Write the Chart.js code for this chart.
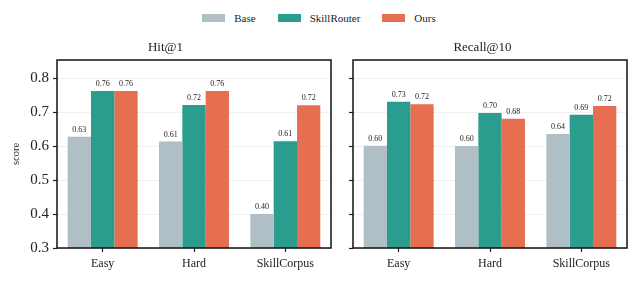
<!DOCTYPE html>
<html>
<head>
<meta charset="utf-8">
<script src="https://cdn.jsdelivr.net/npm/chart.js@4.4.0/dist/chart.umd.min.js"></script>
<style>
  body { margin: 0; background: #fff; }
  #wrap { position: relative; width: 638px; height: 281px; overflow: hidden; }
  #legenda {
    position: absolute; top: 12px; left: 0; width: 638px;
    display: flex; justify-content: center; gap: 22px;
    font-family: "Liberation Serif", serif; font-size: 11px; color: #222;
  }
  #legenda span.item { display: flex; align-items: center; }
  #legenda span.box { display: inline-block; width: 23px; height: 8px; margin-right: 9px; }
  canvas { position: absolute; top: 0; }
</style>
</head>
<body>
<div id="wrap">
  <div id="legenda"></div>
  <canvas id="graficoHit" style="left:0" width="338" height="281"></canvas>
  <canvas id="graficoRecall" style="left:338px" width="300" height="281"></canvas>
</div>
<script>
const categorias = ["Easy", "Hard", "SkillCorpus"];
const series = ["Base", "SkillRouter", "Ours"];
const cores = ["#b0bec5", "#2a9d8f", "#e76f51"];

const hitBase = [0.627, 0.613, 0.40];
const hitSkillRouter = [0.762, 0.721, 0.614];
const hitOurs = [0.762, 0.762, 0.72];

const recallBase = [0.601, 0.600, 0.635];
const recallSkillRouter = [0.730, 0.697, 0.692];
const recallOurs = [0.723, 0.680, 0.718];

const yTicks = [0.3, 0.4, 0.5, 0.6, 0.7, 0.8];
const yMin = 0.3;
const yMax = 0.853;

const fonte = "'Liberation Serif', 'Times New Roman', serif";

// legenda em HTML, comum aos dois paineis
const legenda = document.getElementById("legenda");
series.forEach((s, i) => {
  const item = document.createElement("span");
  item.className = "item";
  item.innerHTML = `<span class="box" style="background:${cores[i]}"></span>${s}`;
  legenda.appendChild(item);
});

// moldura preta em volta da area do grafico
const moldura = {
  id: "moldura",
  afterDraw(chart) {
    const a = chart.chartArea;
    const ctx = chart.ctx;
    ctx.save();
    ctx.strokeStyle = "#111";
    ctx.lineWidth = 1.5;
    ctx.strokeRect(a.left, a.top, a.right - a.left, a.bottom - a.top);
    ctx.restore();
  },
};

// valores em cima das barras
const rotulos = {
  id: "rotulos",
  afterDatasetsDraw(chart) {
    const ctx = chart.ctx;
    ctx.save();
    ctx.font = `8px ${fonte}`;
    ctx.fillStyle = "#222";
    ctx.textAlign = "center";
    ctx.textBaseline = "alphabetic";
    chart.data.datasets.forEach((ds, i) => {
      chart.getDatasetMeta(i).data.forEach((bar, j) => {
        ctx.fillText(ds.data[j].toFixed(2), bar.x, bar.y - 5);
      });
    });
    ctx.restore();
  },
};

function criarGrafico(canvasId, titulo, dados, mostrarEixoY) {
  const ctx = document.getElementById(canvasId).getContext("2d");
  const datasets = series.map((s, i) => ({
    label: s,
    data: dados[i],
    backgroundColor: cores[i],
    borderWidth: 0,
    categoryPercentage: 0.766,
    barPercentage: 1.0,
  }));

  return new Chart(ctx, {
    type: "bar",
    data: { labels: categorias, datasets },
    options: {
      responsive: false,
      animation: false,
      layout: {
        padding: {
          top: 40,
          bottom: 0,
          left: 0,
          right: mostrarEixoY ? 7 : 11,
        },
      },
      plugins: {
        legend: { display: false },
        tooltip: { enabled: false },
        title: {
          display: true,
          text: titulo,
          color: "#222",
          font: { family: fonte, size: 13, weight: "normal", lineHeight: 1.2 },
          padding: { top: 0, bottom: 4.4 },
        },
      },
      scales: {
        x: {
          offset: true,
          grid: {
            offset: false,
            drawOnChartArea: false,
            drawTicks: true,
            tickLength: 4,
            tickColor: "#222",
            tickWidth: 1.2,
          },
          border: { display: false },
          ticks: {
            color: "#222",
            padding: 5,
            font: { family: fonte, size: 12 },
          },
          afterFit(scale) {
            scale.height = 33;
          },
        },
        y: {
          min: yMin,
          max: yMax,
          grid: {
            color: "rgba(0,0,0,0.06)",
            drawTicks: true,
            tickLength: 4,
            tickColor: "#222",
            tickWidth: 1.2,
          },
          border: { display: false },
          ticks: {
            display: mostrarEixoY,
            color: "#222",
            padding: 4,
            font: { family: fonte, size: 15 },
            callback: (v) => v.toFixed(1),
          },
          title: {
            display: mostrarEixoY,
            text: "score",
            color: "#222",
            font: { family: fonte, size: 10.5, lineHeight: 1.2 },
            padding: { top: 10, bottom: 0 },
          },
          afterBuildTicks(scale) {
            scale.ticks = yTicks.map((v) => ({ value: v }));
          },
          afterFit(scale) {
            scale.width = mostrarEixoY ? 57 : 15;
          },
        },
      },
    },
    plugins: [moldura, rotulos],
  });
}

criarGrafico("graficoHit", "Hit@1", [hitBase, hitSkillRouter, hitOurs], true);
criarGrafico("graficoRecall", "Recall@10", [recallBase, recallSkillRouter, recallOurs], false);
</script>
</body>
</html>
